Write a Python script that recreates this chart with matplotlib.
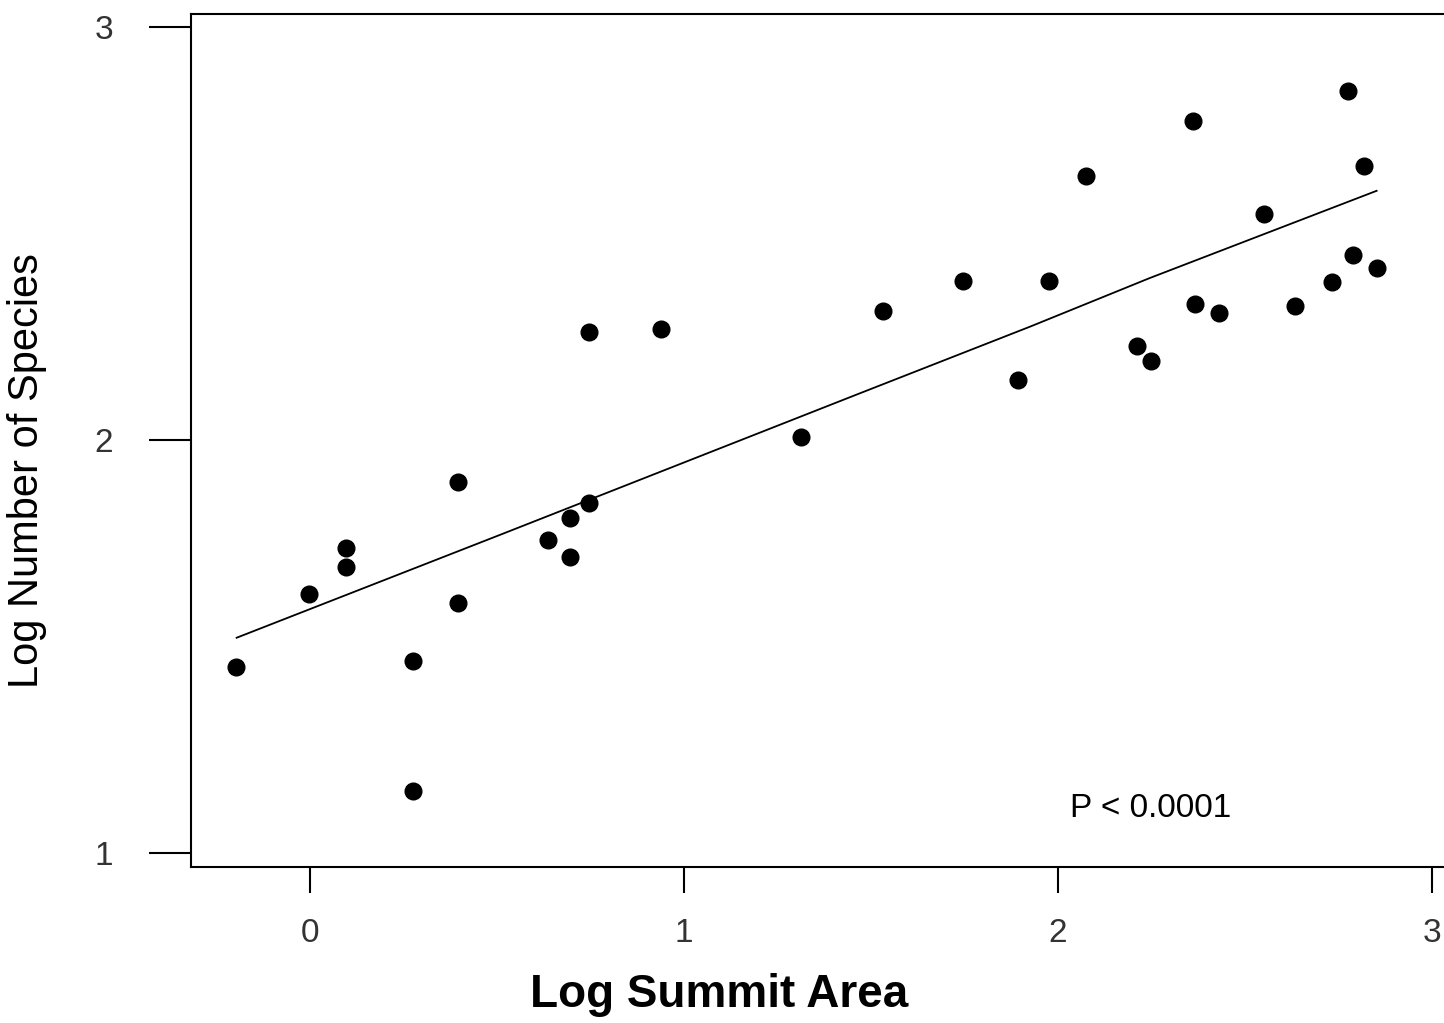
import matplotlib
matplotlib.use("Agg")
import matplotlib.pyplot as plt
import numpy as np

# Data
log_area = np.array([
    -0.198, -0.002, 0.096, 0.096, 0.275, 0.275, 0.397, 0.397,
    0.637, 0.695, 0.695, 0.747, 0.747, 0.938, 1.312, 1.533,
    1.745, 1.894, 1.976, 2.074, 2.212, 2.249, 2.362, 2.366,
    2.431, 2.552, 2.634, 2.732, 2.776, 2.788, 2.818, 2.852,
])
log_species = np.array([
    1.450, 1.627, 1.738, 1.692, 1.465, 1.151, 1.899, 1.606,
    1.758, 1.810, 1.716, 1.848, 2.261, 2.269, 2.008, 2.311,
    2.385, 2.145, 2.385, 2.640, 2.228, 2.191, 2.772, 2.329,
    2.308, 2.547, 2.323, 2.381, 2.845, 2.448, 2.662, 2.416,
])

# smoothed fit line
fit_x = np.array([-0.196, 0.508, 1.471, 1.925, 2.246, 2.852])
fit_y = np.array([1.521, 1.770, 2.113, 2.274, 2.392, 2.603])

x_ticks = [0, 1, 2, 3]
y_ticks = [1, 2, 3]

W, H = 1444, 1023
fig = plt.figure(figsize=(W / 100, H / 100), dpi=100)

left, right, top, bottom = 191, 1469.4, 14, 867
ax = fig.add_axes([left / W, 1 - bottom / H, (right - left) / W, (bottom - top) / H])

ax.plot(fit_x, fit_y, color="black", linewidth=1.3, zorder=2)
ax.plot(log_area, log_species, linestyle="none", marker="o", markersize=12,
        color="black", zorder=3)

ax.set_xlim(-0.318, 3.1)
ax.set_ylim(0.966, 3.031)

for s in ax.spines.values():
    s.set_linewidth(1.5)
    s.set_color("black")

ax.set_xticks(x_ticks)
ax.set_yticks(y_ticks)
tick_font = dict(fontfamily="Liberation Sans", fontsize=24, color="#333333", fontweight="light")
ax.set_xticklabels([str(t) for t in x_ticks], **tick_font)
ax.set_yticklabels([str(t) for t in y_ticks], **tick_font)
ax.tick_params(axis="x", direction="out", length=19, width=1.5, pad=18)
ax.tick_params(axis="y", direction="out", length=30, width=1.5, pad=26)

ax.text(2.032, 1.087, "P < 0.0001", fontfamily="Liberation Sans", fontsize=24,
        ha="left", va="baseline")

fig.text(27 / W, 1 - 471 / H, "Log Number of Species", rotation=90,
         fontfamily="Liberation Sans", fontsize=30, ha="center", va="center")
fig.text(719 / W, 1 - 1007 / H, "Log Summit Area", fontfamily="Liberation Sans",
         fontsize=33, fontweight="bold", ha="center", va="baseline")

fig.savefig("out.png", dpi=100)
